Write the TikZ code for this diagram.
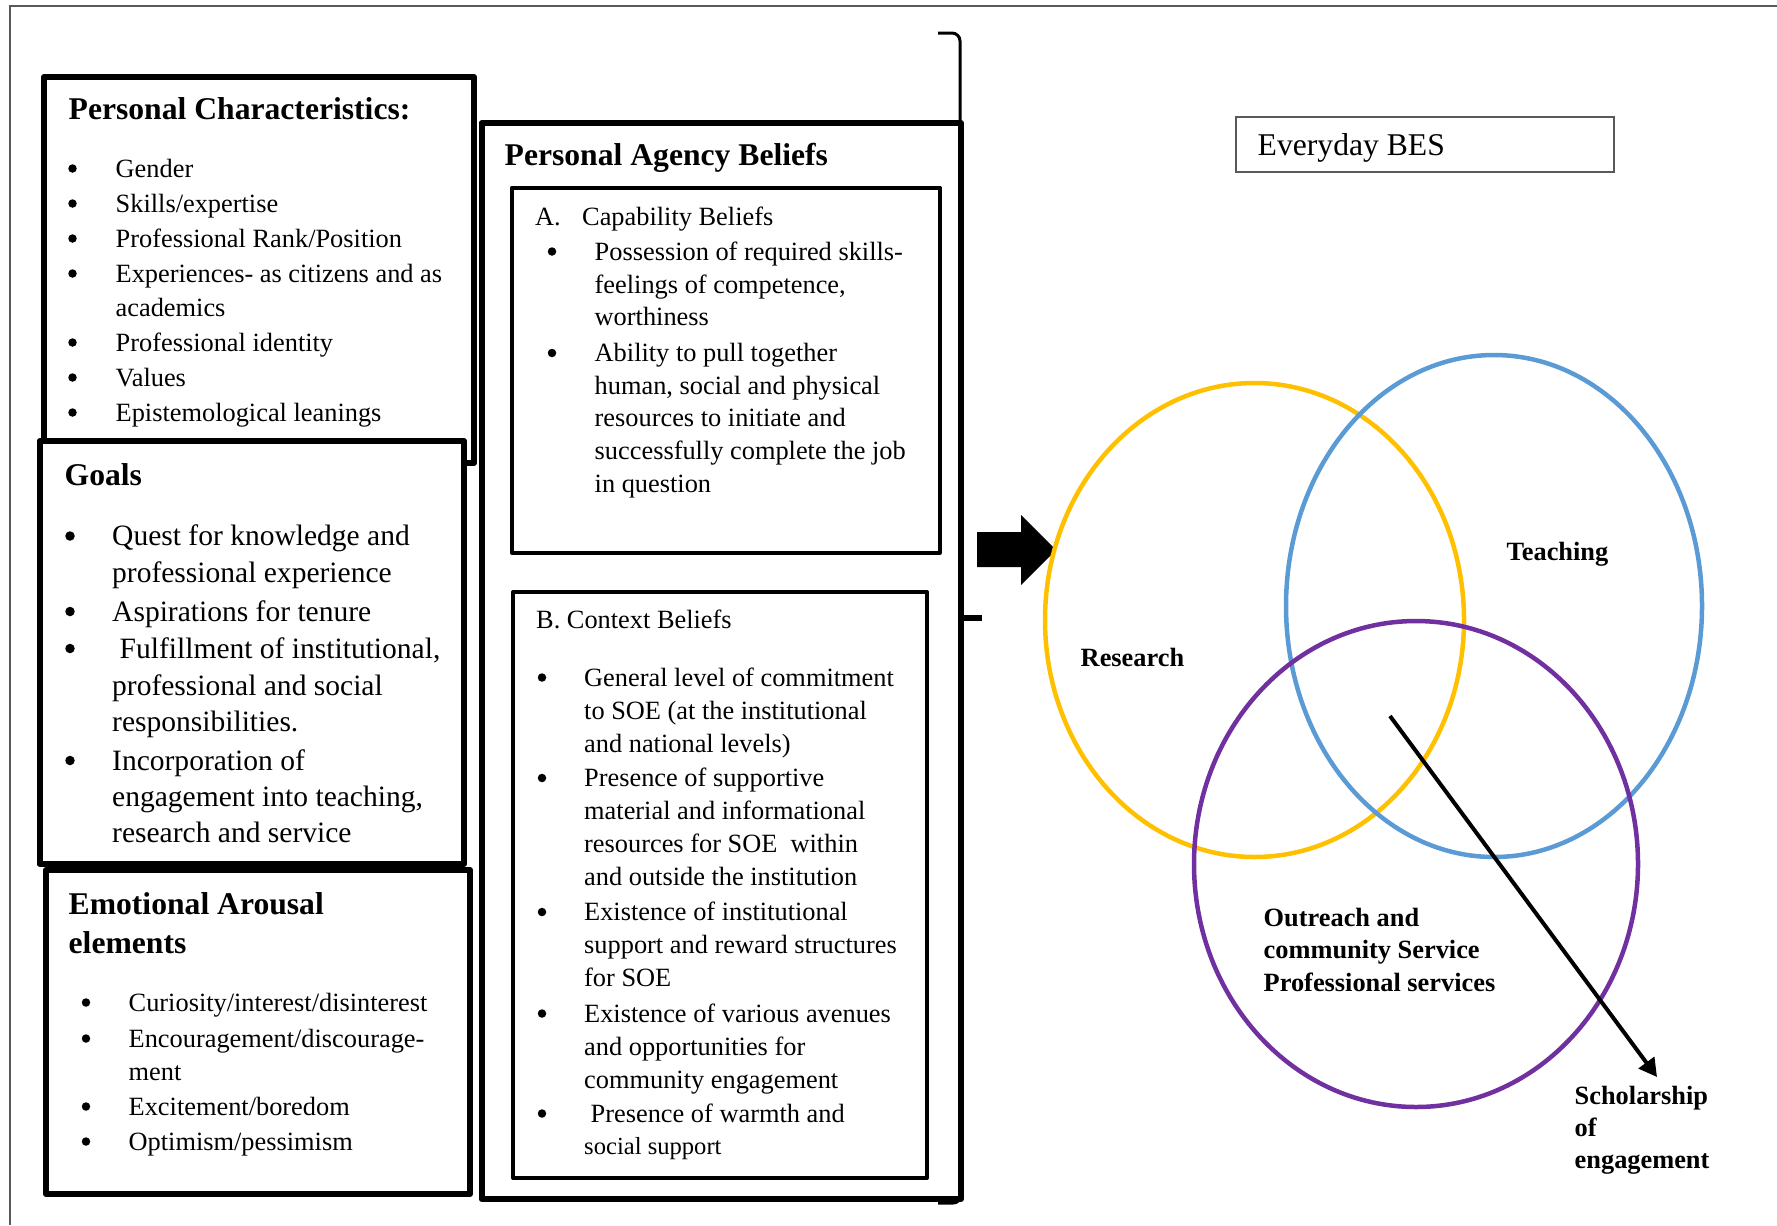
\documentclass[tikz,border=0pt]{standalone}
\usepackage{fontspec}
\setmainfont{Liberation Serif}
\usetikzlibrary{arrows.meta}
\definecolor{ryellow}{HTML}{FFC000}
\definecolor{tblue}{HTML}{5B9BD5}
\definecolor{opurple}{HTML}{7030A0}
\definecolor{framegray}{HTML}{595959}
\begin{document}
\begin{tikzpicture}[x=0.1mm,y=-0.1mm,
  t/.style={anchor=base west,inner sep=0pt,font=\fontsize{7.5}{9}\selectfont},
  ts/.style={t,font=\fontsize{7}{8.5}\selectfont},
  tb/.style={t,font=\fontsize{7.5}{9}\selectfont\bfseries},
  tg/.style={t,font=\fontsize{8.4}{10}\selectfont},
  hd/.style={t,font=\fontsize{9}{11}\selectfont\bfseries},
  bul/.style={circle,fill=black,inner sep=0pt,minimum size=0.85mm},
  bulg/.style={bul,minimum size=0.95mm},
  heavybox/.style={draw,line width=0.6mm,line join=round},
  innerbox/.style={draw,line width=0.4mm,line join=round},
  venn/.style={line width=0.45mm}
]
\useasboundingbox (0,0) rectangle (1777,1225);
% outer frame
\draw[framegray,line width=0.18mm] (1777,6) -- (10,6) -- (10,1225);

% ---------- Personal Characteristics ----------
\draw[heavybox,fill=white] (44,77) rectangle (474,463);
\node[hd] (pch) at (68,119.5) {Personal Characteristics:};
\foreach \y [count=\i] in {177,212,247,282,351,386,421}
  \node[bul] (pcb\i) at (72.5,\y-8.5) {};
\node[t] (pc1) at (115,177) {Gender};
\node[t] (pc2) at (115,212) {Skills/expertise};
\node[t] (pc3) at (115,247) {Professional Rank/Position};
\node[t] (pc4) at (115,282) {Experiences- as citizens and as};
\node[t] (pc5) at (115,316.5) {academics};
\node[t] (pc6) at (115,351) {Professional identity};
\node[t] (pc7) at (115,386) {Values};
\node[t] (pc8) at (115,421) {Epistemological leanings};

% ---------- Goals ----------
\draw[heavybox,fill=white] (39.5,441) rectangle (464,864);
\node[hd] (gh) at (64,485) {Goals};
\foreach \y [count=\i] in {545.5,621,658,770}
  \node[bulg] (gb\i) at (70,\y-9.5) {};
\node[tg] (g1) at (111.5,545.5) {Quest for knowledge and};
\node[tg] (g2) at (111.5,582) {professional experience};
\node[tg] (g3) at (111.5,621) {Aspirations for tenure};
\node[tg] (g4) at (119,658) {Fulfillment of institutional,};
\node[tg] (g5) at (111.5,695) {professional and social};
\node[tg] (g6) at (111.5,731.5) {responsibilities.};
\node[tg] (g7) at (111.5,770) {Incorporation of};
\node[tg] (g8) at (111.5,806) {engagement into teaching,};
\node[tg] (g9) at (111.5,842) {research and service};

% ---------- Emotional Arousal ----------
\draw[heavybox,fill=white] (46,870) rectangle (470,1194);
\node[hd] (eah1) at (68,914.5) {Emotional Arousal};
\node[hd] (eah2) at (68,953) {elements};
\foreach \y [count=\i] in {1011,1047,1115,1150}
  \node[bul] (eab\i) at (86,\y-8.5) {};
\node[t] (ea1) at (128,1011) {Curiosity/interest/disinterest};
\node[t] (ea2) at (128,1047) {Encouragement/discourage-};
\node[t] (ea3) at (128,1080) {ment};
\node[t] (ea4) at (128,1115) {Excitement/boredom};
\node[t] (ea5) at (128,1150) {Optimism/pessimism};

% ---------- Personal Agency Beliefs ----------
\draw[heavybox] (481.5,123) rectangle (961,1199);
\node[hd] (pabh) at (504,165.5) {Personal Agency Beliefs};

% Capability
\draw[innerbox] (512,187.5) rectangle (939.5,553);
\node[t] (capA) at (534.5,225) {A.};
\node[t] (caph) at (581.5,225) {Capability Beliefs};
\foreach \y [count=\i] in {260,361.5}
  \node[bul] (cb\i) at (552,\y-8.5) {};
\node[t] (c1) at (594,260) {Possession of required skills-};
\node[t] (c2) at (594,293) {feelings of competence,};
\node[t] (c3) at (594,325.5) {worthiness};
\node[t] (c4) at (594,361.5) {Ability to pull together};
\node[t] (c5) at (594,394) {human, social and physical};
\node[t] (c6) at (594,426.5) {resources to initiate and};
\node[t] (c7) at (594,459) {successfully complete the job};
\node[t] (c8) at (594,492) {in question};

% Context
\draw[innerbox] (513,592) rectangle (927,1178);
\node[t] (ctxh) at (535.5,628.5) {B. Context Beliefs};
\foreach \y [count=\i] in {686,786.5,920.5,1022,1122}
  \node[bul] (xb\i) at (542,\y-8.5) {};
\node[t] (x1) at (583.5,686) {General level of commitment};
\node[t] (x2) at (583.5,719) {to SOE (at the institutional};
\node[t] (x3) at (583.5,752) {and national levels)};
\node[t] (x4) at (583.5,786.5) {Presence of supportive};
\node[t] (x5) at (583.5,819.5) {material and informational};
\node[t] (x6) at (583.5,852.5) {resources for SOE\ \ within};
\node[t] (x7) at (583.5,885.5) {and outside the institution};
\node[t] (x8) at (583.5,920.5) {Existence of institutional};
\node[t] (x9) at (583.5,953.5) {support and reward structures};
\node[t] (x10) at (583.5,986.5) {for SOE};
\node[t] (x11) at (583.5,1022) {Existence of various avenues};
\node[t] (x12) at (583.5,1055) {and opportunities for};
\node[t] (x13) at (583.5,1088) {community engagement};
\node[t] (x14) at (590,1122) {Presence of warmth and};
\node[ts] (x15) at (583.5,1154) {social support};

% bracket
\draw[line width=0.3mm,rounded corners=0.8mm] (938,33) -- (960,33) -- (960,126);
\draw[line width=0.3mm,rounded corners=0.8mm] (961,1190) -- (961,1203) -- (938,1203);
\draw[line width=0.6mm] (960,618) -- (982,618);

% block arrow
\fill (977,532) -- (1021,532) -- (1021,515) -- (1056,550) -- (1021,585) -- (1021,567) -- (977,567) -- cycle;

% Everyday BES
\draw[framegray,line width=0.17mm] (1236,117) rectangle (1614,172);
\node[anchor=base west,inner sep=0pt,font=\fontsize{9}{11}\selectfont] (bes) at (1257,155) {Everyday BES};

% Venn ellipses
\draw[venn,ryellow] (1254.5,620) ellipse [x radius=20.95mm, y radius=23.7mm];
\draw[venn,tblue] (1494,606) ellipse [x radius=20.8mm, y radius=25.1mm];
\draw[venn,opurple] (1416,864) ellipse [x radius=22.2mm, y radius=24.3mm];

\node[tb] (research) at (1080,666.5) {Research};
\node[tb] (teaching) at (1506,560) {Teaching};
\node[tb] (out1) at (1263,926) {Outreach and};
\node[tb] (out2) at (1263,958.5) {community Service};
\node[tb] (out3) at (1263,991) {Professional services};
\node[tb] (soe1) at (1574,1104) {Scholarship};
\node[tb] (soe2) at (1574,1136) {of};
\node[tb] (soe3) at (1574,1168) {engagement};

\coordinate (arrowstart) at (1390,716);
\coordinate (arrowtip) at (1657,1077);
\draw[line width=0.4mm,-{Triangle[length=1.8mm,width=1.9mm]}] (arrowstart) -- (arrowtip);
\end{tikzpicture}
\end{document}
